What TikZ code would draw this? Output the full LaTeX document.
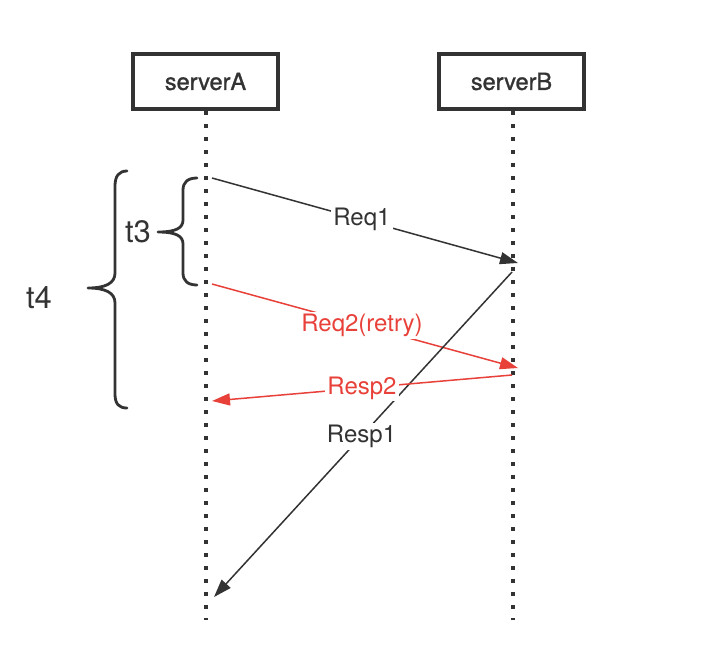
\documentclass[tikz,border=0pt]{standalone}
\usepackage{fontspec}
\setmainfont{TeX Gyre Heros}
\newfontfamily\boxfont[FakeBold=1.2]{TeX Gyre Heros}
\usetikzlibrary{arrows.meta}
\definecolor{ink}{HTML}{333333}
\definecolor{redln}{HTML}{E8413A}
\begin{document}
\begin{tikzpicture}[x=1pt,y=-1pt,
  server/.style={draw=ink,line width=3.2pt,fill=white,minimum width=145pt,minimum height=55pt,inner sep=0pt,text=ink,font=\boxfont\fontsize{23.5}{28}\selectfont},
  lifeline/.style={draw=ink,line width=3.5pt,dash pattern=on 4pt off 9pt},
  msg/.style={line width=1.5pt,-{Triangle[length=18pt,width=12pt]}},
  blackmsg/.style={msg,draw=ink},
  redmsg/.style={msg,draw=redln},
  lbl/.style={fill=white,inner sep=2pt,font=\fontsize{24}{28}\selectfont},
  bracepath/.style={draw=ink,line width=2.8pt,line cap=round,line join=round},
  tlbl/.style={text=ink,inner sep=0pt,font=\fontsize{31}{36}\selectfont}]
\useasboundingbox (0,0) rectangle (708,662);
\fill[white] (0,0) rectangle (708,662);
% servers
\node[server] (A) at (205.5,81.5) {serverA};
\node[server] (B) at (511.5,81.5) {serverB};
\coordinate (Aend) at (206,620);
\coordinate (Bend) at (513,620);
\draw[lifeline] (206,111) -- (Aend);
\draw[lifeline] (513,111) -- (Bend);
% message endpoints
\coordinate (r1s) at (212,178);
\coordinate (r1e) at (518,263);
\coordinate (r2s) at (212,284);
\coordinate (r2e) at (518,368);
\coordinate (p1s) at (512,272);
\coordinate (p1e) at (214,597);
\coordinate (p2s) at (512,375);
\coordinate (p2e) at (212,401);
% messages
\draw[blackmsg] (r1s) -- node[lbl,text=ink,pos=0.49] (L1) {Req1} (r1e);
\draw[redmsg] (r2s) -- node[lbl,text=redln,pos=0.49] (L2) {Req2(retry)} (r2e);
\draw[blackmsg] (p1s) -- node[lbl,text=ink,pos=0.505] (L3) {Resp1} (p1e);
\draw[redmsg] (p2s) -- node[lbl,text=redln,pos=0.5] (L4) {Resp2} (p2e);
% braces
\draw[bracepath] (197,178) .. controls (188,178) and (183,182) .. (183,190) -- (183,220)
  .. controls (183,228) and (176,232) .. (158,232)
  .. controls (176,232) and (183,236) .. (183,244) -- (183,273)
  .. controls (183,281) and (188,285) .. (197,285);
\draw[bracepath] (127,171) .. controls (119,171) and (115,176) .. (115,186) -- (115,273)
  .. controls (115,283) and (106,288) .. (88,288)
  .. controls (106,288) and (115,293) .. (115,303) -- (115,394)
  .. controls (115,404) and (119,408) .. (127,408);
\node[tlbl] (t3) at (138,232) {t3};
\node[tlbl] (t4) at (39,298) {t4};
\end{tikzpicture}
\end{document}
